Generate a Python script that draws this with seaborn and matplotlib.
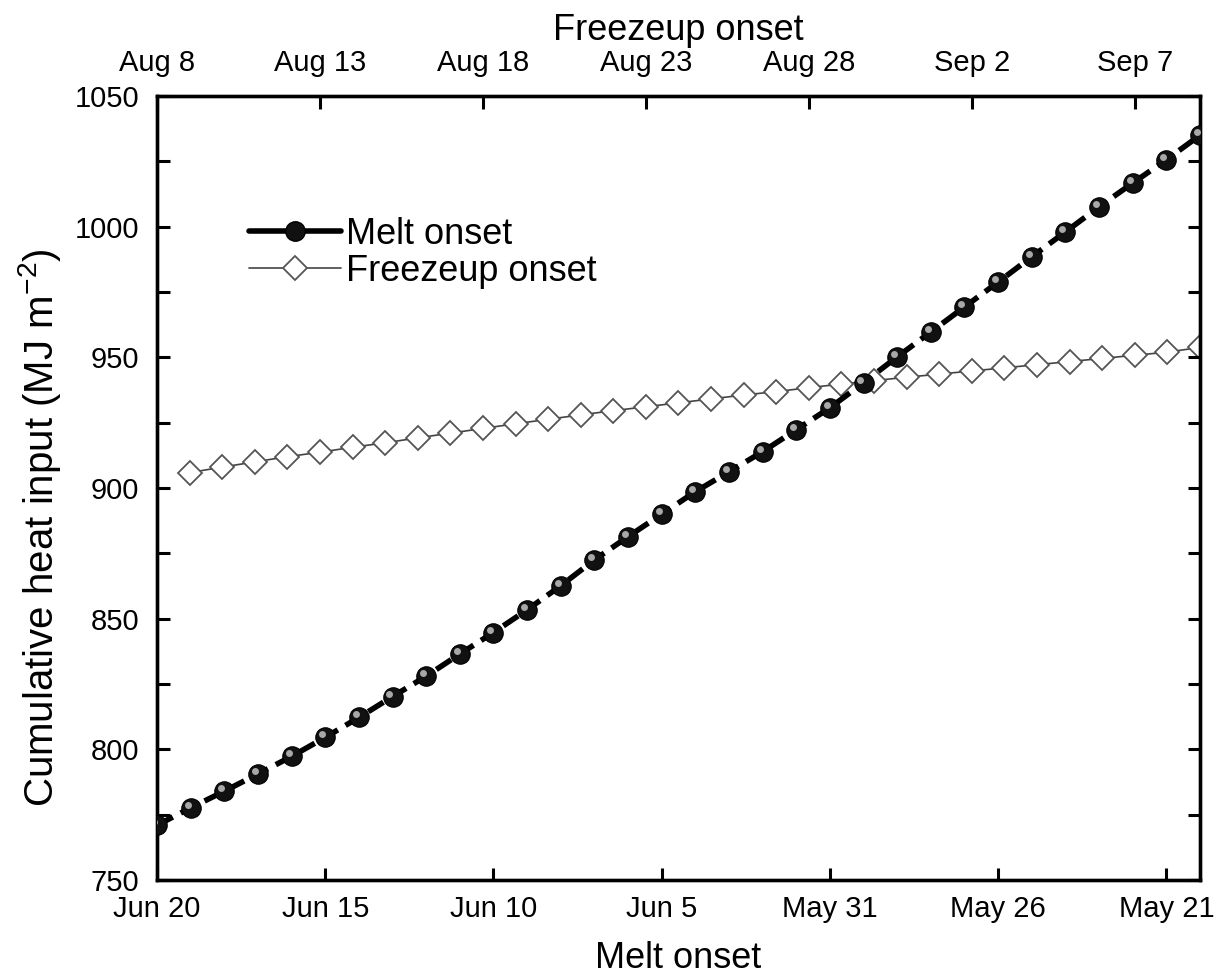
import numpy as np
import pandas as pd
import matplotlib
matplotlib.use("Agg")
import matplotlib.pyplot as plt
import seaborn as sns
from matplotlib.lines import Line2D
from matplotlib.ticker import MultipleLocator
from matplotlib.transforms import offset_copy

# ---- data ----
melt_days = list(range(0, 32))          # days before Jun 20 (Jun 20 -> May 20)
melt_heat = [771, 777.6, 784, 790.6, 797.3, 804.6, 812.2, 820.2, 828, 836.5,
             844.7, 853.4, 862.6, 872.5, 881.4, 890, 898.6, 906.2, 913.9, 922.3,
             930.7, 940.3, 950.2, 959.7, 969.3, 978.8, 988.5, 998, 1007.6, 1016.7,
             1025.6, 1035]
freeze_days = list(range(1, 33))        # days after Aug 8 (Aug 9 -> Sep 9)
freeze_heat = [905.9, 908, 910, 912, 913.7, 915.6, 917.3, 919.2, 921, 922.8,
               924.6, 926.3, 928, 929.6, 931.1, 932.6, 934.1, 935.6, 936.9, 938.4,
               939.8, 941.1, 942.4, 943.6, 944.8, 946, 947.2, 948.4, 949.6, 950.8,
               952, 953.8]
bottom_ticks = [0, 5, 10, 15, 20, 25, 30]
bottom_labels = ["Jun 20", "Jun 15", "Jun 10", "Jun 5", "May 31", "May 26", "May 21"]
top_ticks = [0, 5, 10, 15, 20, 25, 30]
top_labels = ["Aug 8", "Aug 13", "Aug 18", "Aug 23", "Aug 28", "Sep 2", "Sep 7"]

sns.set_theme(style="ticks")
plt.rcParams['font.family'] = ['Liberation Sans', 'DejaVu Sans']
plt.rcParams['mathtext.fontset'] = 'custom'
plt.rcParams['mathtext.rm'] = 'Liberation Sans'
plt.rcParams['mathtext.it'] = 'Liberation Sans'
for k in ['text.color', 'axes.labelcolor', 'xtick.color', 'ytick.color', 'axes.edgecolor']:
    plt.rcParams[k] = 'black'

fig = plt.figure(figsize=(12.17, 9.8), dpi=100)
ax = fig.add_axes([0.129, 0.102, 0.857, 0.8])
ax2 = ax.twiny()

melt_df = pd.DataFrame({"day": melt_days, "heat": melt_heat})
freeze_df = pd.DataFrame({"day": freeze_days, "heat": freeze_heat})

# freezeup on top axis
sns.lineplot(data=freeze_df, x="day", y="heat", ax=ax2, color="#444444",
             linewidth=1.2, marker="D", markersize=12, markerfacecolor="white",
             markeredgecolor="#555555", markeredgewidth=1.3, zorder=2)

# melt on bottom axis
sns.lineplot(data=melt_df, x="day", y="heat", ax=ax, color="black",
             linewidth=4.0, marker="o", markersize=14, markerfacecolor="#111111",
             markeredgecolor="#000000", markeredgewidth=0.8, zorder=5)
for ln in ax.get_lines():
    ln.set_dashes((3.2, 1.6))
ax.set_zorder(ax2.get_zorder() + 1)
ax.patch.set_visible(False)
# sphere highlight
hl = offset_copy(ax.transData, fig=fig, x=-2.2, y=2.2, units='points')
ax.plot(melt_days, melt_heat, linestyle="none", marker="o", markersize=5,
        markerfacecolor="#a8a8a8", markeredgewidth=0, transform=hl, zorder=6)

ax.set_xlim(0, 31)
ax2.set_xlim(0, 32)
ax.set_ylim(750, 1050)

ax.set_xticks(bottom_ticks)
ax.set_xticklabels(bottom_labels)
ax2.set_xticks(top_ticks)
ax2.set_xticklabels(top_labels)
ax.yaxis.set_major_locator(MultipleLocator(50))
ax.yaxis.set_minor_locator(MultipleLocator(25))

ax.tick_params(axis='x', direction='in', length=9, width=2.2, labelsize=21, pad=11)
ax2.tick_params(axis='x', direction='in', length=9, width=2.2, labelsize=21, pad=14)
ax.tick_params(axis='y', which='both', direction='in', length=9, width=2.2,
               labelsize=21, right=True, left=True, pad=13)
ax2.tick_params(axis='y', which='both', length=0)

for a in (ax, ax2):
    for s in a.spines.values():
        s.set_linewidth(2.4)
        s.set_color("black")
        s.set_visible(True)

ax.set_xlabel("Melt onset", fontsize=26, labelpad=13)
ax2.set_xlabel("Freezeup onset", fontsize=26, labelpad=6)
ax.set_ylabel("Cumulative heat input (MJ m$^{-2}$)", fontsize=29, labelpad=10)
ax.yaxis.set_label_coords(-0.09, 0.45)
ax2.set_ylabel("")

h1 = Line2D([], [], color="black", linewidth=4.0, marker="o", markersize=14,
            markerfacecolor="#111111", markeredgecolor="black")
h2 = Line2D([], [], color="#444444", linewidth=1.2, marker="D", markersize=12,
            markerfacecolor="white", markeredgecolor="#555555", markeredgewidth=1.3)
leg = ax.legend([h1, h2], ["Melt onset", "Freezeup onset"], loc="upper left",
                bbox_to_anchor=(0.074, 0.864), frameon=False, fontsize=26,
                handlelength=2.55, handletextpad=0.15, labelspacing=0.05,
                borderaxespad=0.0)

fig.savefig("out.png", dpi=100)
